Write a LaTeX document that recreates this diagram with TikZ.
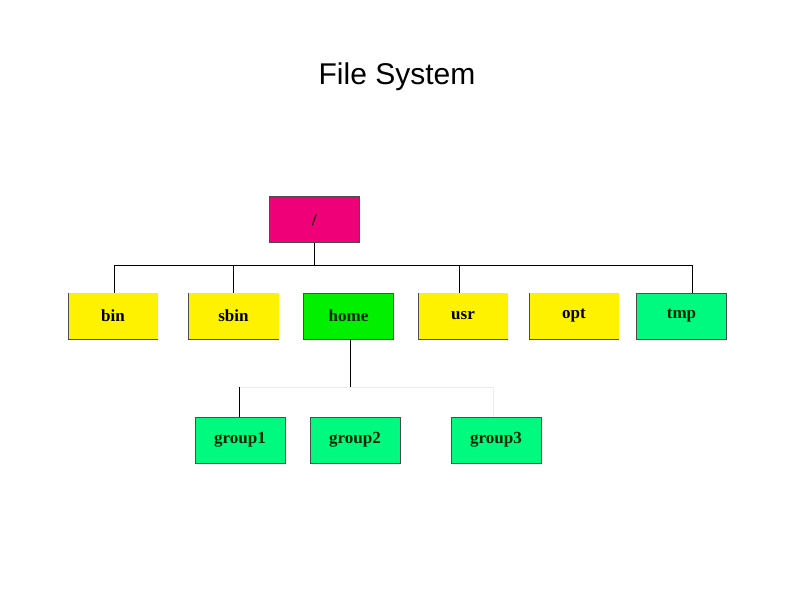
\documentclass[tikz,border=0pt]{standalone}
\usepackage{fontspec}
\setmainfont{Liberation Serif}
\setsansfont{Liberation Sans}
\usetikzlibrary{positioning}
\definecolor{rootpink}{RGB}{240,0,120}
\definecolor{dirgreen}{RGB}{0,240,0}
\definecolor{grpgreen}{RGB}{0,250,128}
\definecolor{txtgreen}{RGB}{0,40,0}

\begin{document}
\begin{tikzpicture}[
    x=1pt, y=-1pt,
    dir/.style={rectangle, minimum width=90pt, minimum height=46pt, inner sep=0pt, font=\fontsize{17}{20}\selectfont\bfseries},
    yellowdir/.style={dir, fill=yellow},
    greendir/.style={dir, draw=black!70, fill=dirgreen, text=txtgreen},
    groupdir/.style={dir, draw=black!70, fill=grpgreen, text=txtgreen},
    link/.style={black, line width=0.6pt},
    faint/.style={black!8, line width=0.6pt},
]
    \useasboundingbox (0,0) rectangle (794,595);

    % Title
    \node[font=\sffamily\fontsize{30}{34}\selectfont] (title) at (397,77) {File System};

    % Root
    \node[dir, draw=black!70, fill=rootpink] (root) at (314.5,219.5) {/};

    % First level
    \node[yellowdir] (bin) at (113,316) {bin};
    \node[yellowdir] (sbin) at (233.5,316) {sbin};
    \node[greendir] (home) at (348.5,316) {home};
    \node[yellowdir] (usr) at (463,316) {usr};
    \node[yellowdir] (opt) at (574,316) {opt};
    \node[groupdir] (tmp) at (681.5,316) {tmp};

    % Yellow boxes: left and bottom edges only
    \foreach \n in {bin, sbin, usr, opt}
        \draw[black!70] (\n.north west) -- (\n.south west) -- (\n.south east);

    % Second level
    \node[groupdir] (group1) at (240,440) {group1};
    \node[groupdir] (group2) at (355,440) {group2};
    \node[groupdir] (group3) at (496,440) {group3};

    % Bus lines
    \coordinate (busL) at (114,265);
    \coordinate (busR) at (692,265);
    \coordinate (busroot) at (root.south |- busL);
    \draw[link] (busL) -- (busR);
    \draw[link] (root.south) -- (busroot);
    \draw[link] (busL) -- (busL |- bin.north);
    \draw[link] (233,265) -- (233,293);
    \draw[link] (459,265) -- (459,293);
    \draw[link] (busR) -- (busR |- tmp.north);

    \coordinate (grpL) at (239,387);
    \coordinate (grpR) at (493,387);
    \draw[link] (350,339) -- (350,387);
    \draw[faint] (grpL) -- (grpR);
    \draw[link] (grpL) -- (grpL |- group1.north);
    \draw[faint] (493,387) -- (493,417);
\end{tikzpicture}
\end{document}
